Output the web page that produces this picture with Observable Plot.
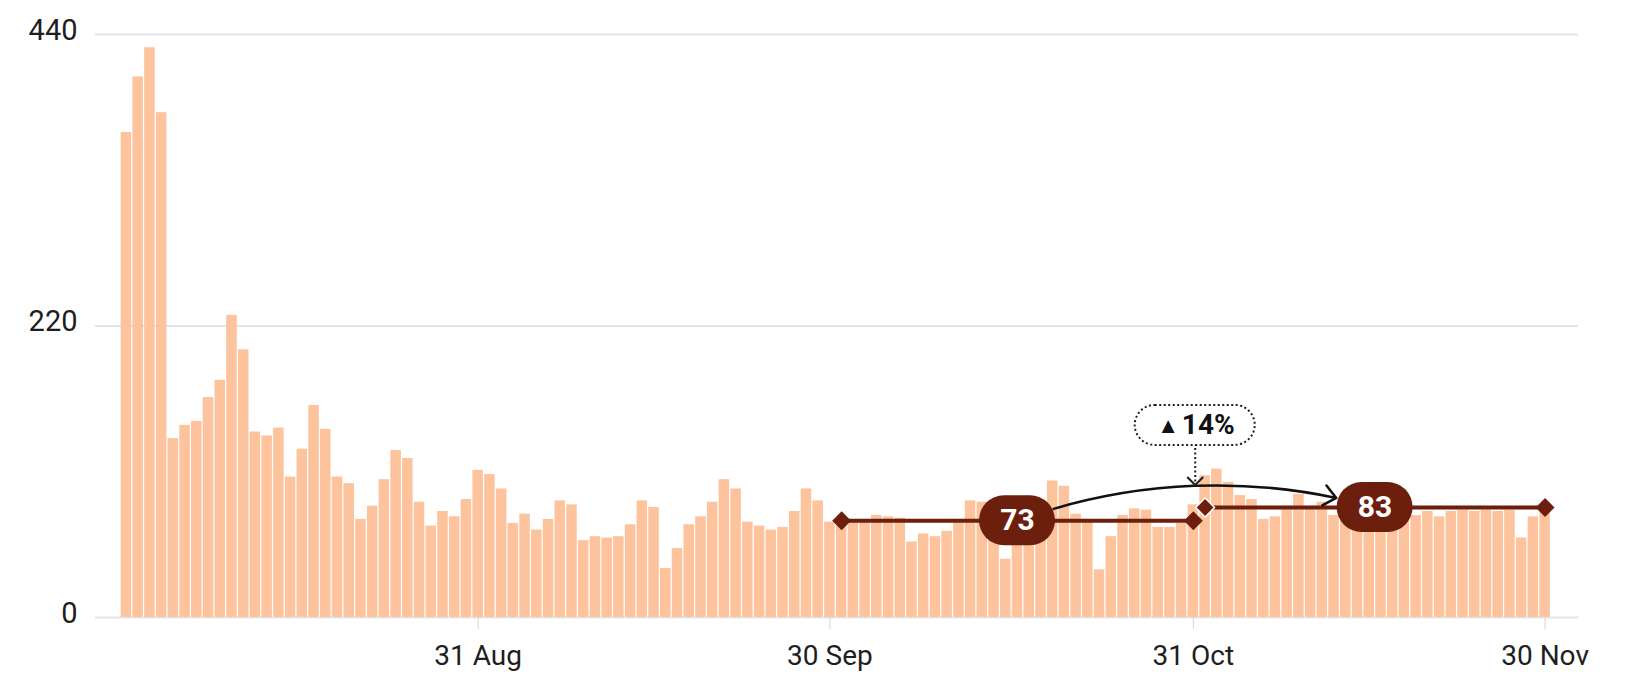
<!DOCTYPE html>
<html>
<head>
<meta charset="utf-8">
<script src="https://cdn.jsdelivr.net/npm/d3@7"></script>
<script src="https://cdn.jsdelivr.net/npm/@observablehq/plot@0.6"></script>
<style>
  html, body { margin: 0; padding: 0; background: #fff; overflow: hidden; }
  #chart svg { display: block; }
</style>
</head>
<body>
<div id="chart"></div>
<script>
// ---------- data ----------
const firstDay = "2023-08-01";
const dailyValues = [
  // August
  366, 408, 430, 381, 135, 145, 148, 166, 179, 228, 202, 140, 137, 143, 106, 127,
  160, 142, 106, 101, 74, 84, 104, 126, 120, 87, 69, 80, 76, 89, 111,
  // September
  108, 97, 71, 78, 66, 74, 88, 85, 58, 61, 60, 61, 70, 88, 83,
  37, 52, 70, 76, 87, 104, 97, 72, 69, 66, 68, 80, 97, 88, 72,
  // October
  72, 73, 73, 77, 76, 75, 57, 63, 61, 65, 74, 88, 87, 72, 44, 70,
  74, 77, 103, 99, 78, 74, 36, 61, 77, 82, 81, 68, 68, 71, 85,
  // November
  107, 112, 102, 92, 89, 74, 76, 84, 93, 84, 87, 77, 80, 78, 82,
  79, 81, 82, 77, 80, 76, 80, 81, 80, 81, 80, 81, 60, 76, 82
];
const yTicks = [0, 220, 440];
const xTickDays = ["2023-08-31", "2023-09-30", "2023-10-31", "2023-11-30"];
const xTickLabels = ["31 Aug", "30 Sep", "31 Oct", "30 Nov"];
const periodStarts = ["2023-10-01", "2023-11-01"];
const periodEnds = ["2023-10-31", "2023-11-30"];
const periodMeans = [73, 83];
const changeText = "14%";
const changeMarker = "▲";
const changeBoxValue = 145;   // vertical position of the change callout (value units)
const changePointerValue = 100;

// ---------- derived tables ----------
const DAY = 864e5;
const t0 = Date.parse(firstDay);
const bars = dailyValues.map((v, i) => ({
  start: new Date(t0 + i * DAY),
  end: new Date(t0 + (i + 1) * DAY),
  value: v
}));
const noon = s => new Date(Date.parse(s) + DAY / 2);
const tickMap = new Map(xTickDays.map((d, i) => [+noon(d), xTickLabels[i]]));
const periods = periodMeans.map((m, i) => ({
  start: noon(periodStarts[i]),
  end: noon(periodEnds[i]),
  mid: new Date((+noon(periodStarts[i]) + +noon(periodEnds[i])) / 2),
  mean: m
}));
const endpoints = periods.flatMap((p, i) => [
  {x: p.start, y: p.mean, joint: i > 0},
  {x: p.end, y: p.mean, joint: false}
]);
const change = [{from: periods[0], to: periods[1], at: new Date(Date.parse(periodStarts[1])), text: changeText}];

// ---------- layout ----------
const W = 1633, H = 675;
const mL = 95, mR = 55, mT = 34, mB = 58;
const xDomain = [new Date(t0 - 2.14 * DAY), new Date(t0 + (dailyValues.length + 2.35) * DAY)];

const BAR = "#fcc39d";
const DARK = "#6b1f0c";
const INK = "#1e1e1e";

const chevron = {
  draw(ctx, size) {
    const s = Math.sqrt(size);
    ctx.moveTo(-s * 0.5, -s * 0.5);
    ctx.lineTo(0, 0);
    ctx.lineTo(s * 0.5, -s * 0.5);
  }
};

const chart = Plot.plot({
  width: W, height: H,
  marginLeft: mL, marginRight: mR, marginTop: mT, marginBottom: mB,
  x: {type: "utc", domain: xDomain, label: null},
  y: {domain: [0, 440], label: null},
  style: {fontFamily: "Roboto, 'Noto Sans', sans-serif", fontSize: "28px", color: INK, background: "#fff"},
  marks: [
    Plot.ruleY(yTicks, {stroke: "#e3e3ea", strokeWidth: 2}),
    Plot.rectY(bars, {x1: "start", x2: "end", y: "value", fill: BAR, insetLeft: 0.6, insetRight: 0.6}),
    Plot.axisY({ticks: yTicks, tickSize: 0, tickPadding: 18, fontSize: 29, dy: -4, fill: INK, label: null}),
    Plot.axisX({
      ticks: xTickDays.map(noon),
      tickFormat: d => tickMap.get(+d),
      tickSize: 12, tickPadding: 16,
      stroke: "#d6d6d6", fill: INK, fontSize: 28, label: null
    }),
    // period mean lines
    Plot.link(periods, {x1: "start", x2: "end", y1: "mean", y2: "mean", stroke: DARK, strokeWidth: 4}),
    Plot.dot(endpoints, {
      x: "x", y: "y", symbol: "diamond2", r: 8.5, fill: DARK,
      stroke: d => d.joint ? "#fff" : "none", strokeWidth: 1.5
    }),
    // curved change arrow
    Plot.arrow(change, {
      x1: d => d.from.mid, y1: d => d.from.mean,
      x2: d => d.to.mid, y2: d => d.to.mean,
      bend: 18, insetStart: 38, insetEnd: 40,
      stroke: "#111", strokeWidth: 2.5, headLength: 9.5, headAngle: 80
    }),
    // mean pills
    Plot.rect(periods, {
      x1: "mid", x2: "mid", y1: "mean", y2: "mean",
      insetLeft: -38, insetRight: -38, insetTop: -25, insetBottom: -25,
      rx: 25, fill: DARK
    }),
    Plot.text(periods, {x: "mid", y: "mean", text: d => String(d.mean), fill: "#fff", fontWeight: "bold", fontSize: 30}),
    // change callout
    Plot.link(change, {
      x1: "at", x2: "at", y1: () => changeBoxValue, y2: () => changePointerValue,
      dx: -4, stroke: INK, strokeWidth: 2, strokeDasharray: "2 2.5"
    }),
    Plot.dot(change, {x: "at", y: () => changePointerValue, dx: -4, symbol: chevron, r: 9, fill: "none", stroke: INK, strokeWidth: 2}),
    Plot.rect(change, {
      x1: "at", x2: "at", y1: () => changeBoxValue, y2: () => changeBoxValue,
      insetLeft: -60, insetRight: -60, insetTop: -20, insetBottom: -20,
      dx: -4, rx: 20, fill: "#fff", stroke: INK, strokeWidth: 2, strokeDasharray: "2 2.5"
    }),
    Plot.text(change, {x: "at", y: () => changeBoxValue, text: () => changeMarker, dx: -31, dy: 1, fontSize: 22, fill: "#111"}),
    Plot.text(change, {x: "at", y: () => changeBoxValue, text: "text", dx: 9, fontSize: 28, fontWeight: "bold", fill: "#111"})
  ]
});
document.getElementById("chart").append(chart);
</script>
</body>
</html>
